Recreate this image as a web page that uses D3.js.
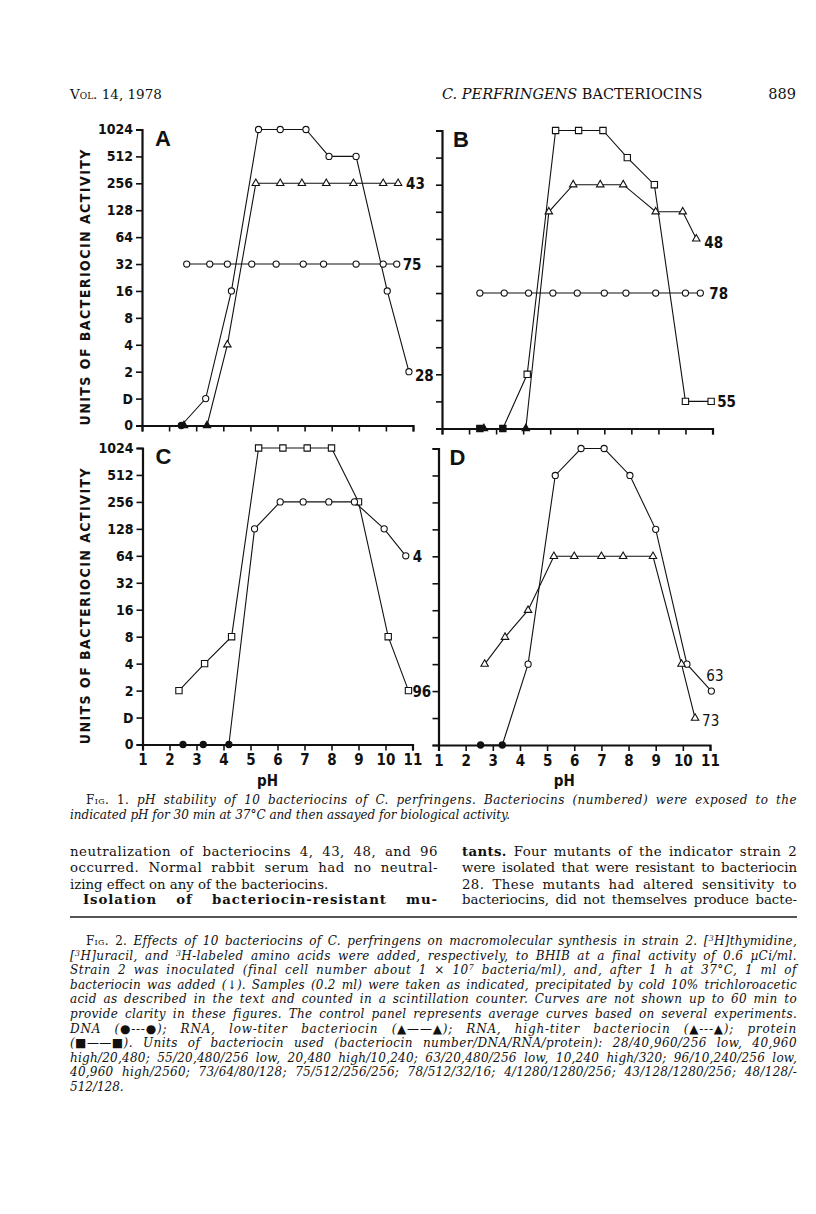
<!DOCTYPE html>
<html>
<head>
<meta charset="utf-8">
<script src="https://cdn.jsdelivr.net/npm/d3@7"></script>
<style>
  html, body { margin: 0; padding: 0; background: #fff; }
  svg { display: block; }
  .chart text { font-family: "Liberation Sans Narrow", "DejaVu Sans Condensed", "DejaVu Sans", sans-serif; font-stretch: condensed; fill: #111; }
  .page text { font-family: "DejaVu Serif", "Liberation Serif", serif; fill: #111; }
</style>
</head>
<body>
<div id="fig"></div>
<script>
// y levels: 0, D (stored as 1), then 2..1024
const yLevels = [0, 1, 2, 4, 8, 16, 32, 64, 128, 256, 512, 1024];
const yTickLabels = ["0", "D", "2", "4", "8", "16", "32", "64", "128", "256", "512", "1024"];
const xTicks = [1, 2, 3, 4, 5, 6, 7, 8, 9, 10, 11];

// panel A
const ph28 = [2.45, 3.35, 4.3, 5.3, 6.1, 7.05, 7.9, 8.9, 10.05, 10.85];
const units28 = [0, 1, 16, 1024, 1024, 1024, 512, 512, 16, 2];
const ph43 = [2.55, 3.4, 4.15, 5.2, 6.1, 6.9, 7.8, 8.8, 9.9, 10.45];
const units43 = [0, 0, 4, 256, 256, 256, 256, 256, 256, 256];
const ph75 = [2.65, 3.5, 4.15, 5.05, 5.95, 6.95, 7.7, 8.9, 9.9, 10.4];
const units75 = [32, 32, 32, 32, 32, 32, 32, 32, 32, 32];

// panel B
const ph55 = [2.4, 3.25, 4.15, 5.2, 6.05, 6.95, 7.85, 8.85, 10.0, 10.95];
const units55 = [0, 0, 2, 1024, 1024, 1024, 512, 256, 1, 1];
const ph48 = [2.55, 4.1, 4.95, 5.85, 6.85, 7.7, 8.9, 9.9, 10.4];
const units48 = [0, 0, 128, 256, 256, 256, 128, 128, 64];
const ph78 = [2.4, 3.3, 4.2, 5.1, 6.0, 7.0, 7.8, 8.9, 10.0, 10.55];
const units78 = [16, 16, 16, 16, 16, 16, 16, 16, 16, 16];

// panel C
const ph96 = [2.35, 3.3, 4.3, 5.3, 6.2, 7.1, 8.0, 9.0, 10.1, 10.85];
const units96 = [2, 4, 8, 1024, 1024, 1024, 1024, 256, 8, 2];
const ph4 = [2.5, 3.25, 4.2, 5.15, 6.1, 6.95, 7.9, 8.85, 9.95, 10.75];
const units4 = [0, 0, 0, 128, 256, 256, 256, 256, 128, 64];

// panel D
const ph63 = [2.55, 3.35, 4.3, 5.3, 6.25, 7.1, 8.05, 9.0, 10.15, 11.05];
const units63 = [0, 0, 4, 512, 1024, 1024, 512, 128, 4, 2];
const ph73 = [2.7, 3.45, 4.3, 5.25, 6.0, 7.0, 7.8, 8.9, 9.95, 10.45];
const units73 = [4, 8, 16, 64, 64, 64, 64, 64, 4, 1];

const zip = (ph, u) => ph.map((p, i) => [p, u[i]]);

const panels = [
  { id: "A", left: 142, right: 413, top: 129.5, bottom: 425.5, yLabels: true, xLabels: false,
    series: [
      { name: "28", data: zip(ph28, units28), mark: "circle", lab: [6, 5] },
      { name: "43", data: zip(ph43, units43), mark: "triangle", lab: [8, 1] },
      { name: "75", data: zip(ph75, units75), mark: "circle", lab: [6, 1] }
    ] },
  { id: "B", left: 442, right: 712.5, top: 130.5, bottom: 428.5, yLabels: false, xLabels: false,
    series: [
      { name: "55", data: zip(ph55, units55), mark: "square", lab: [6, 1] },
      { name: "48", data: zip(ph48, units48), mark: "triangle", lab: [8, 5] },
      { name: "78", data: zip(ph78, units78), mark: "circle", lab: [9, 1] }
    ] },
  { id: "C", left: 142.5, right: 412.5, top: 448, bottom: 744.5, yLabels: true, xLabels: true,
    series: [
      { name: "96", data: zip(ph96, units96), mark: "square", lab: [4, 2] },
      { name: "4", data: zip(ph4, units4), mark: "circle", lab: [7, 2] }
    ] },
  { id: "D", left: 438.5, right: 710, top: 448.5, bottom: 745, yLabels: false, xLabels: true,
    series: [
      { name: "63", data: zip(ph63, units63), mark: "circle", lab: [-5, -15] },
      { name: "73", data: zip(ph73, units73), mark: "triangle", lab: [7, 3] }
    ] }
];

const W = 816, H = 1214;
const svg = d3.select("#fig").append("svg").attr("width", W).attr("height", H);
const chart = svg.append("g").attr("class", "chart");

const symbols = {
  circle: d3.symbol().type(d3.symbolCircle).size(30),
  triangle: d3.symbol().type(d3.symbolTriangle).size(24),
  square: d3.symbol().type(d3.symbolSquare).size(40)
};

panels.forEach(p => {
  const x = d3.scaleLinear().domain([1, 11]).range([p.left, p.right]);
  const y = d3.scalePoint().domain(yLevels).range([p.bottom, p.top]);
  const g = chart.append("g");

  const yAxis = g.append("g")
    .attr("transform", "translate(" + p.left + ",0)")
    .call(d3.axisLeft(y).tickSize(6).tickPadding(3)
      .tickFormat((d, i) => p.yLabels ? yTickLabels[i] : ""));
  const xAxis = g.append("g")
    .attr("transform", "translate(0," + p.bottom + ")")
    .call(d3.axisBottom(x).tickValues(xTicks).tickSize(6).tickPadding(4)
      .tickFormat(d => p.xLabels ? d : ""));
  [yAxis, xAxis].forEach(a => {
    a.select(".domain").attr("stroke", "#111").attr("stroke-width", 2.2);
    a.selectAll(".tick line").attr("stroke", "#111").attr("stroke-width", 1.6);
    a.selectAll("text").attr("font-size", 14).attr("font-weight", "bold").style("fill", "#111");
  });
  xAxis.selectAll("text").attr("font-size", 15);

  g.append("text").attr("x", p.left + (p.id === "A" || p.id === "C" ? 13 : 11))
    .attr("y", p.top + 16)
    .attr("font-size", 22).attr("font-weight", "bold")
    .style("font-family", "Liberation Sans, Arial, sans-serif").style("font-stretch", "normal")
    .text(p.id);

  const line = d3.line().x(d => x(d[0])).y(d => y(d[1]));

  p.series.forEach(s => {
    g.append("path").datum(s.data)
      .attr("d", line)
      .attr("fill", "none").attr("stroke", "#111").attr("stroke-width", 1.1);
    g.append("g").selectAll("path").data(s.data).enter().append("path")
      .attr("transform", d => "translate(" + x(d[0]) + "," + y(d[1]) + ")")
      .attr("d", symbols[s.mark])
      .attr("fill", d => d[1] === 0 ? "#111" : "#fff")
      .attr("stroke", "#111").attr("stroke-width", 1.1);
    const last = s.data[s.data.length - 1];
    g.append("text")
      .attr("x", x(last[0]) + s.lab[0])
      .attr("y", y(last[1]) + s.lab[1])
      .attr("dominant-baseline", "middle")
      .attr("font-size", 15).attr("font-weight", p.id === "D" ? "normal" : "bold")
      .text(s.name);
  });

  if (p.xLabels) {
    g.append("text").attr("x", (p.left + p.right) / 2 - 10).attr("y", p.bottom + 41)
      .attr("text-anchor", "middle").attr("font-size", 15).attr("font-weight", "bold")
      .text("pH");
  }
  if (p.yLabels) {
    const cy = (p.top + p.bottom) / 2 + 10;
    g.append("text")
      .attr("transform", "translate(90," + cy + ") rotate(-90)")
      .attr("text-anchor", "middle")
      .attr("font-size", 14).attr("font-weight", "bold")
      .attr("textLength", 276).attr("lengthAdjust", "spacing")
      .text("UNITS OF BACTERIOCIN ACTIVITY");
  }
});

// page text
const page = svg.append("g").attr("class", "page");

// justify: widen word gaps, and if gaps get too big spread some into letters
function textLine(x, yb, parts, opts) {
  const t = page.append("text").attr("x", x).attr("y", yb)
    .attr("font-size", opts.size || 13.3);
  if (opts.anchor) t.attr("text-anchor", opts.anchor);
  let full = "";
  parts.forEach(pt => {
    const [str, style] = typeof pt === "string" ? [pt, ""] : pt;
    full += str;
    const ts = t.append("tspan").text(str);
    if (style.includes("i")) ts.attr("font-style", "italic");
    if (style.includes("b")) ts.attr("font-weight", "bold");
    if (style.includes("c")) ts.style("font-variant", "small-caps");
    if (style.includes("s")) ts.attr("baseline-shift", "super").attr("font-size", "65%");
  });
  if (opts.width) {
    let natural = t.node().getComputedTextLength();
    const gaps = (full.trim().match(/ /g) || []).length;
    if (natural < opts.width && gaps > 0) {
      if ((opts.width - natural) / gaps > 3.5) {
        t.attr("letter-spacing", (opts.width - natural) * 0.45 / full.length);
        natural = t.node().getComputedTextLength();
      }
      t.attr("word-spacing", Math.max(0, (opts.width - natural) / gaps));
    } else {
      t.attr("textLength", opts.width).attr("lengthAdjust", "spacing");
    }
  }
  return t;
}

// header
textLine(70, 99, [["Vol.", "c"], " 14, 1978"], { size: 13.5 });
textLine(442, 99, [["C. PERFRINGENS", "i"], " BACTERIOCINS"], { size: 14.5 });
textLine(796, 99, ["889"], { size: 14.5, anchor: "end" });

// fig 1 caption
const R = 797, CAP = 12;
textLine(86, 804, [["Fig. 1.", "c"], [" pH stability of 10 bacteriocins of C. perfringens. Bacteriocins (numbered) were exposed to the", "i"]], { size: CAP, width: R - 86 });
textLine(70, 819, [["indicated pH for 30 min at 37°C and then assayed for biological activity.", "i"]], { size: CAP });

// body text, two columns
const L1 = 70, L2 = 438, C2 = 462;
textLine(L1, 856, ["neutralization of bacteriocins 4, 43, 48, and 96"], { width: L2 - L1 });
textLine(L1, 872, ["occurred. Normal rabbit serum had no neutral-"], { width: L2 - L1 });
textLine(L1, 889, ["izing effect on any of the bacteriocins."], {});
textLine(L1 + 13, 904, [["Isolation of bacteriocin-resistant mu-", "b"]], { width: L2 - L1 - 13 });
textLine(C2, 856, [["tants.", "b"], " Four mutants of the indicator strain 2"], { width: R - C2 });
textLine(C2, 872, ["were isolated that were resistant to bacteriocin"], { width: R - C2 });
textLine(C2, 889, ["28. These mutants had altered sensitivity to"], { width: R - C2 });
textLine(C2, 904, ["bacteriocins, did not themselves produce bacte-"], { width: R - C2 });

page.append("line").attr("x1", 70).attr("x2", R).attr("y1", 917).attr("y2", 917)
  .attr("stroke", "#555").attr("stroke-width", 2);

// fig 2 caption
const capLines = [
  [86, [["Fig. 2.", "c"], [" Effects of 10 bacteriocins of C. perfringens on macromolecular synthesis in strain 2. [", "i"], ["3", "is"], ["H]thymidine,", "i"]], true],
  [70, [["[", "i"], ["3", "is"], ["H]uracil, and ", "i"], ["3", "is"], ["H-labeled amino acids were added, respectively, to BHIB at a final activity of 0.6 µCi/ml.", "i"]], true],
  [70, [["Strain 2 was inoculated (final cell number about 1 × 10", "i"], ["7", "is"], [" bacteria/ml), and, after 1 h at 37°C, 1 ml of", "i"]], true],
  [70, [["bacteriocin was added (↓). Samples (0.2 ml) were taken as indicated, precipitated by cold 10% trichloroacetic", "i"]], true],
  [70, [["acid as described in the text and counted in a scintillation counter. Curves are not shown up to 60 min to", "i"]], true],
  [70, [["provide clarity in these figures. The control panel represents average curves based on several experiments.", "i"]], true],
  [70, [["DNA (●---●); RNA, low-titer bacteriocin (▲——▲); RNA, high-titer bacteriocin (▲---▲); protein", "i"]], true],
  [70, [["(■——■). Units of bacteriocin used (bacteriocin number/DNA/RNA/protein): 28/40,960/256 low, 40,960", "i"]], true],
  [70, [["high/20,480; 55/20,480/256 low, 20,480 high/10,240; 63/20,480/256 low, 10,240 high/320; 96/10,240/256 low,", "i"]], true],
  [70, [["40,960 high/2560; 73/64/80/128; 75/512/256/256; 78/512/32/16; 4/1280/1280/256; 43/128/1280/256; 48/128/-", "i"]], true],
  [70, [["512/128.", "i"]], false]
];
capLines.forEach((c, i) => {
  const o = { size: CAP };
  if (c[2]) o.width = R - c[0];
  textLine(c[0], 945 + i * 14.6, c[1], o);
});
</script>
</body>
</html>
